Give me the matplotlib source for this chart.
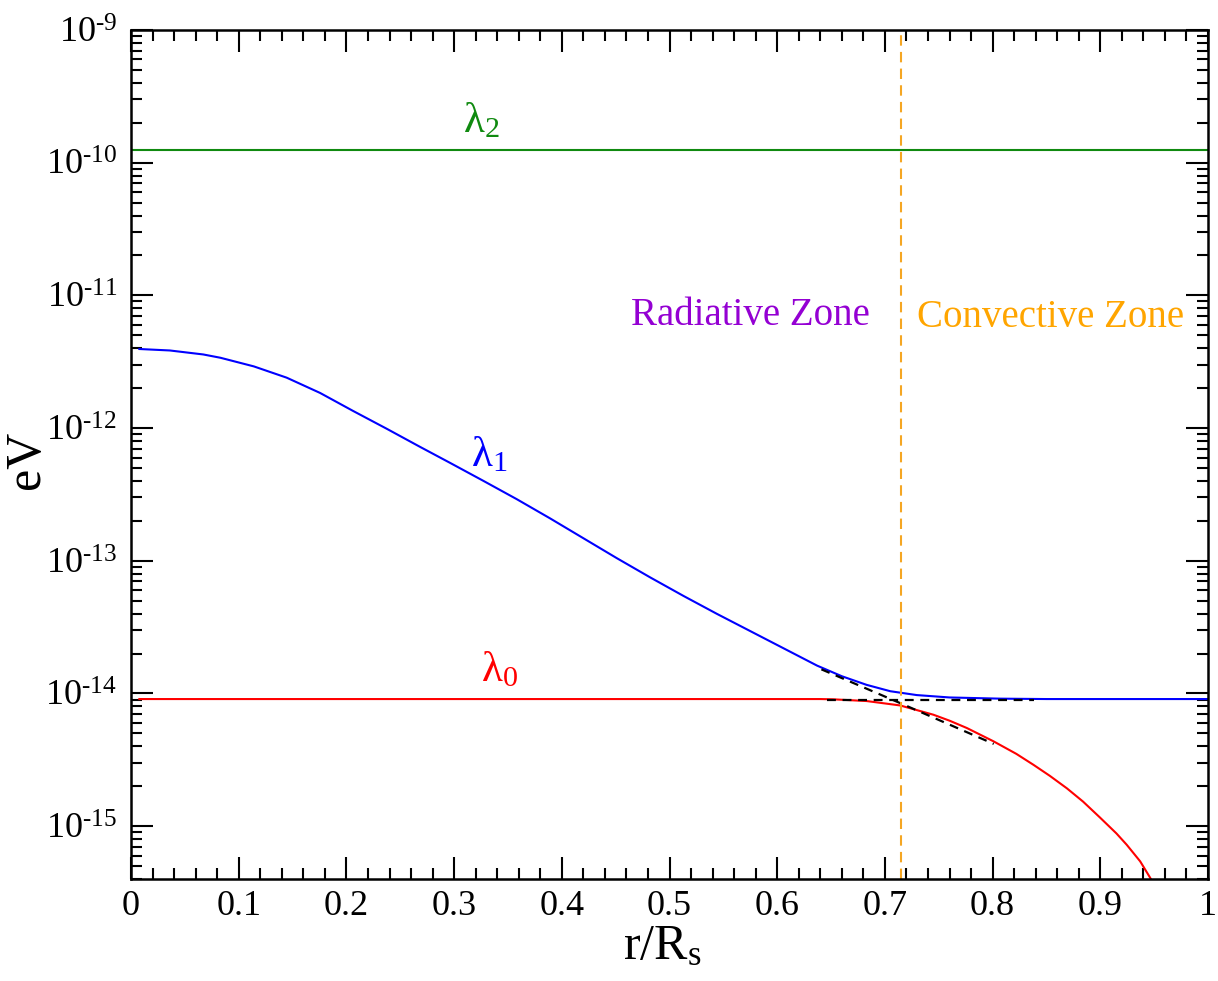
import numpy as np
import matplotlib as mpl
mpl.use('Agg')
import matplotlib.pyplot as plt
from matplotlib.ticker import LogLocator, MultipleLocator, FuncFormatter, NullFormatter

plt.rcParams['font.family'] = ['Liberation Serif', 'DejaVu Serif']
plt.rcParams['mathtext.fontset'] = 'custom'
plt.rcParams['mathtext.rm'] = 'Liberation Serif'
plt.rcParams['mathtext.it'] = 'Liberation Serif:italic'
plt.rcParams['mathtext.default'] = 'regular'

# values, as log10(eV)
# lambda_2: flat
r_l2 = [0.0, 1.0]
log_l2 = [-9.904, -9.904]

# lambda_1
r_l1 = [0.0077, 0.036, 0.067, 0.083, 0.114, 0.1445, 0.1755, 0.206, 0.2374, 0.268,
        0.2962, 0.327, 0.358, 0.389, 0.420, 0.451, 0.482, 0.513, 0.544, 0.575,
        0.606, 0.637, 0.660, 0.683, 0.705, 0.7295, 0.760, 0.807, 0.85, 0.9, 1.0]
log_l1 = [-11.404, -11.415, -11.445, -11.470, -11.535, -11.62, -11.735, -11.87, -12.005, -12.14,
          -12.262, -12.397, -12.535, -12.68, -12.83, -12.98, -13.125, -13.265, -13.40, -13.53,
          -13.66, -13.79, -13.87, -13.935, -13.983, -14.012, -14.030, -14.039, -14.042, -14.042, -14.042]

# lambda_0
r_l0 = [0.0077, 0.2, 0.4, 0.6, 0.640, 0.652, 0.683, 0.714, 0.745, 0.760, 0.776, 0.8007,
        0.822, 0.838, 0.853, 0.869, 0.884, 0.8997, 0.915, 0.9245, 0.937, 0.946, 0.952]
log_l0 = [-14.042, -14.042, -14.042, -14.042, -14.042, -14.044, -14.057, -14.09, -14.16, -14.205, -14.26, -14.36,
          -14.455, -14.538, -14.62, -14.715, -14.815, -14.935, -15.055, -15.14, -15.265, -15.385, -15.47]

# asymptotes (dashed black)
r_diag = [0.641, 0.677, 0.714, 0.801]
log_diag = [-13.818, -13.943, -14.072, -14.380]
r_flat = [0.646, 0.838]
log_flat = [-14.049, -14.049]

r_cz = 0.715

fig = plt.figure(figsize=(12.18, 9.81), dpi=100)
ax = fig.add_axes([0.1076, 0.104, 0.8842, 0.8654])

ax.plot(r_l2, 10 ** np.array(log_l2), color='#108a10', lw=1.5)
ax.plot(r_l1, 10 ** np.array(log_l1), color='#0000ff', lw=1.5)
ax.plot(r_l0, 10 ** np.array(log_l0), color='#ff0000', lw=1.5)
ax.plot(r_diag, 10 ** np.array(log_diag), color='black', lw=1.6, ls=(0, (4, 3)))
ax.plot(r_flat, 10 ** np.array(log_flat), color='black', lw=1.6, ls=(0, (4, 3)))
ax.axvline(r_cz, color='#f5a623', lw=1.5, ls=(0, (5, 3)))

ax.set_yscale('log')
ax.set_xlim(0, 1)
ax.set_ylim(4e-16, 1e-9)


def pow_label(v, pos):
    e = int(round(np.log10(v)))
    return r'$10^{\text{-}%d}$' % abs(e)


ax.xaxis.set_minor_locator(MultipleLocator(0.02))
ax.set_xticks(np.arange(0, 1.01, 0.1))
ax.set_xticklabels(['0', '0.1', '0.2', '0.3', '0.4', '0.5', '0.6', '0.7', '0.8', '0.9', '1'])
ax.yaxis.set_major_locator(LogLocator(base=10, numticks=20))
ax.yaxis.set_minor_locator(LogLocator(base=10, subs=np.arange(2, 10), numticks=20))
ax.yaxis.set_major_formatter(FuncFormatter(pow_label))
ax.yaxis.set_minor_formatter(NullFormatter())

ax.tick_params(which='both', direction='in', top=True, right=True, width=1.5)
ax.tick_params(which='major', length=16)
ax.tick_params(which='minor', length=8)
ax.tick_params(axis='x', which='major', labelsize=26, pad=8)
ax.tick_params(axis='y', which='major', labelsize=26, pad=10)
for s in ax.spines.values():
    s.set_linewidth(1.8)

fig.text(0.022, 0.531, 'eV', fontsize=36, rotation=90, ha='center', va='center')
fig.text(0.544, 0.022, r'r/R$_s$', fontsize=36, ha='center', va='baseline')

ax.text(0.325, 2.05e-10, r'$\lambda_2$', color='#108a10', fontsize=31, ha='center', va='center')
ax.text(0.333, 6.27e-13, r'$\lambda_1$', color='#0000ff', fontsize=31, ha='center', va='center')
ax.text(0.342, 1.5e-14, r'$\lambda_0$', color='#ff0000', fontsize=31, ha='center', va='center')
ax.text(0.575, 7.0e-12, 'Radiative Zone', color='#9400d3', fontsize=28, ha='center', va='center')
ax.text(0.854, 6.76e-12, 'Convective Zone', color='#ffa500', fontsize=28, ha='center', va='center')

fig.savefig('out.png', dpi=100)
